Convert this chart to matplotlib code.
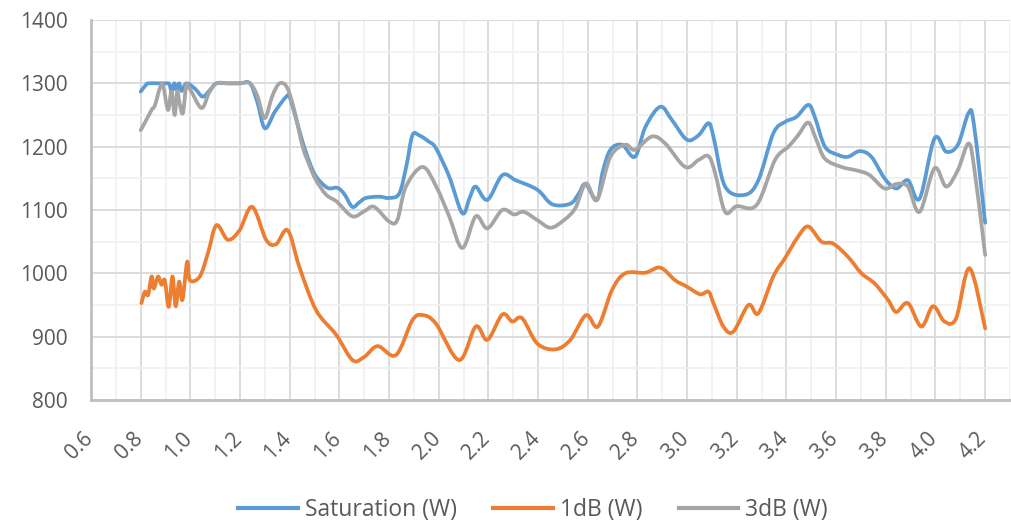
import matplotlib
matplotlib.use("Agg")
import matplotlib.pyplot as plt
from matplotlib.ticker import MultipleLocator, FormatStrFormatter
import matplotlib.transforms as mtransforms
from matplotlib.path import Path
from matplotlib.patches import PathPatch
from matplotlib.lines import Line2D

plt.rcParams['font.family'] = ['Open Sans', 'DejaVu Sans']

# ---------------- data ----------------
sat_x = [0.80, 0.82, 0.83, 0.87, 0.90, 0.915, 0.925, 0.935, 0.945, 0.955,
         0.965, 0.985, 1.02, 1.05, 1.08, 1.105, 1.15, 1.20, 1.24, 1.27,
         1.30, 1.34, 1.386, 1.40, 1.425, 1.453, 1.48, 1.506, 1.552, 1.592,
         1.62, 1.652, 1.68, 1.707, 1.761, 1.80, 1.841, 1.87, 1.894, 1.921,
         1.96, 1.988, 2.042, 2.095, 2.125, 2.149, 2.196, 2.256, 2.31, 2.397,
         2.457, 2.53, 2.564, 2.591, 2.637, 2.66, 2.691, 2.738, 2.79, 2.832,
         2.892, 2.939, 2.999, 3.046, 3.086, 3.106, 3.153, 3.233, 3.287, 3.347,
         3.394, 3.44, 3.488, 3.514, 3.555, 3.608, 3.648, 3.695, 3.742, 3.795,
         3.842, 3.889, 3.936, 3.996, 4.043, 4.09, 4.133, 4.154, 4.20]
sat_y = [1287, 1297, 1300, 1300, 1300, 1299, 1286, 1300, 1290, 1300,
         1288, 1300, 1291, 1279, 1290, 1300, 1300, 1300, 1300, 1270,
         1229, 1255, 1279, 1278, 1245, 1206, 1175, 1153, 1135, 1135,
         1125, 1105, 1112, 1119, 1121, 1119, 1126, 1170, 1218, 1218,
         1208, 1198, 1153, 1095, 1120, 1137, 1116, 1155, 1147, 1132,
         1109, 1110, 1126, 1141, 1116, 1160, 1195, 1203, 1184, 1231,
         1263, 1242, 1211, 1218, 1237, 1216, 1137, 1124, 1147, 1221,
         1239, 1247, 1266, 1247, 1200, 1187, 1184, 1193, 1184, 1150,
         1134, 1147, 1118, 1213, 1192, 1203, 1253, 1237, 1080]

db1_x = [0.803, 0.817, 0.83, 0.844, 0.853, 0.87, 0.884, 0.897, 0.913, 0.928,
         0.941, 0.955, 0.968, 0.987, 0.998, 1.038, 1.071, 1.105, 1.151, 1.198,
         1.249, 1.305, 1.345, 1.392, 1.439, 1.506, 1.587, 1.653, 1.70, 1.754,
         1.828, 1.894, 1.935, 1.988, 2.082, 2.149, 2.196, 2.256, 2.296, 2.336,
         2.397, 2.47, 2.53, 2.593, 2.641, 2.698, 2.751, 2.832, 2.892, 2.952,
         2.999, 3.052, 3.086, 3.106, 3.146, 3.186, 3.247, 3.287, 3.347, 3.394,
         3.447, 3.488, 3.541, 3.588, 3.648, 3.702, 3.755, 3.809, 3.842, 3.889,
         3.943, 3.99, 4.036, 4.083, 4.137, 4.20]
db1_y = [953, 971, 966, 995, 976, 995, 982, 989, 947, 995,
         948, 987, 958, 1018, 989, 995, 1032, 1076, 1053, 1068,
         1105, 1053, 1046, 1068, 1010, 942, 903, 863, 868, 885,
         871, 926, 934, 921, 863, 916, 895, 935, 924, 929,
         889, 880, 895, 934, 916, 974, 1000, 1001, 1009, 989,
         979, 967, 971, 953, 916, 908, 950, 937, 995, 1024,
         1058, 1074, 1050, 1047, 1026, 1000, 984, 958, 939, 953,
         916, 948, 924, 929, 1008, 913]

db3_x = [0.80, 0.817, 0.844, 0.857, 0.877, 0.89, 0.91, 0.924, 0.937, 0.947,
         0.957, 0.97, 0.984, 1.00, 1.045, 1.075, 1.105, 1.15, 1.20, 1.24,
         1.27, 1.299, 1.33, 1.359, 1.39, 1.42, 1.452, 1.48, 1.506, 1.547,
         1.59, 1.652, 1.70, 1.74, 1.80, 1.833, 1.868, 1.935, 1.99, 2.042,
         2.095, 2.149, 2.196, 2.256, 2.303, 2.343, 2.397, 2.45, 2.504, 2.55,
         2.593, 2.637, 2.691, 2.751, 2.79, 2.858, 2.912, 2.992, 3.046, 3.086,
         3.113, 3.153, 3.20, 3.28, 3.354, 3.408, 3.447, 3.488, 3.52, 3.555,
         3.621, 3.688, 3.735, 3.795, 3.842, 3.889, 3.936, 3.996, 4.043, 4.09,
         4.133, 4.157, 4.20]
db3_y = [1226, 1238, 1258, 1265, 1292, 1297, 1258, 1287, 1250, 1287,
         1268, 1253, 1297, 1290, 1261, 1285, 1300, 1300, 1300, 1300,
         1280, 1245, 1280, 1300, 1293, 1255, 1200, 1170, 1147, 1124,
         1113, 1090, 1098, 1105, 1082, 1084, 1137, 1168, 1137, 1090,
         1040, 1090, 1071, 1100, 1093, 1097, 1084, 1072, 1084, 1103,
         1142, 1116, 1184, 1203, 1195, 1216, 1205, 1168, 1179, 1185,
         1158, 1097, 1106, 1108, 1179, 1200, 1218, 1238, 1211, 1181,
         1168, 1162, 1155, 1134, 1141, 1137, 1097, 1166, 1137, 1163,
         1205, 1163, 1029]

series_names = ["Saturation (W)", "1dB (W)", "3dB (W)"]
series_colors = ["#5B9BD5", "#ED7D31", "#A5A5A5"]


def smooth_path(xs, ys):
    """Excel-style smoothed line: cubic Bezier segments through the data points."""
    n = len(xs)
    verts = [(xs[0], ys[0])]
    codes = [Path.MOVETO]
    for i in range(n - 1):
        x0, y0 = (xs[i - 1], ys[i - 1]) if i > 0 else (xs[i], ys[i])
        x1, y1 = xs[i], ys[i]
        x2, y2 = xs[i + 1], ys[i + 1]
        x3, y3 = (xs[i + 2], ys[i + 2]) if i + 2 < n else (x2, y2)
        c1 = (x1 + (x2 - x0) / 6.0, y1 + (y2 - y0) / 6.0)
        c2 = (x2 - (x3 - x1) / 6.0, y2 - (y3 - y1) / 6.0)
        verts += [c1, c2, (x2, y2)]
        codes += [Path.CURVE4] * 3
    return Path(verts, codes)


# ---------------- figure ----------------
W, H = 1011, 522
fig = plt.figure(figsize=(W / 100, H / 100), dpi=100)
ax = fig.add_axes([91 / W, 1 - 400 / H, (1010 - 91) / W, (400 - 20) / H])

LW = 2.7
zorders = [3, 5, 4]
for xs, ys, col, z in zip([sat_x, db1_x, db3_x], [sat_y, db1_y, db3_y],
                          series_colors, zorders):
    patch = PathPatch(smooth_path(xs, ys), facecolor='none', edgecolor=col,
                      lw=LW, joinstyle='round', capstyle='round', zorder=z)
    ax.add_patch(patch)

ax.set_xlim(0.6, 4.3)
ax.set_ylim(800, 1400)
ax.xaxis.set_major_locator(MultipleLocator(0.2))
ax.xaxis.set_minor_locator(MultipleLocator(0.1))
ax.yaxis.set_major_locator(MultipleLocator(100))
ax.yaxis.set_minor_locator(MultipleLocator(50))
ax.xaxis.set_major_formatter(FormatStrFormatter('%.1f'))
ax.set_xticks([0.6 + 0.2 * i for i in range(19)])

ax.grid(which='major', color='#D9D9D9', lw=1.3, zorder=0)
ax.grid(which='minor', color='#F0F0F0', lw=1.2, zorder=0)
ax.set_axisbelow(True)

for s in ['top', 'right']:
    ax.spines[s].set_visible(False)
for s in ['left', 'bottom']:
    ax.spines[s].set_color('#BFBFBF')
    ax.spines[s].set_linewidth(2.0)

ax.tick_params(which='both', length=0)
ax.tick_params(axis='y', labelsize=15, labelcolor='#595959', pad=17)
ax.tick_params(axis='x', labelsize=15, labelcolor='#595959', pad=20)

offset = mtransforms.ScaledTranslation(6 / 100, 0, fig.dpi_scale_trans)
for lab in ax.get_xticklabels():
    lab.set_rotation(45)
    lab.set_ha('right')
    lab.set_va('top')
    lab.set_transform(lab.get_transform() + offset)

handles = [Line2D([], [], color=c, lw=3.0) for c in series_colors]
leg = fig.legend(handles=handles, labels=series_names, loc='center',
                 bbox_to_anchor=(533 / W, 1 - 510 / H), ncol=3, frameon=False,
                 fontsize=16.5, handlelength=2.6, handletextpad=0.3,
                 columnspacing=1.6, labelcolor='#595959')

fig.savefig("out.png", dpi=100)
